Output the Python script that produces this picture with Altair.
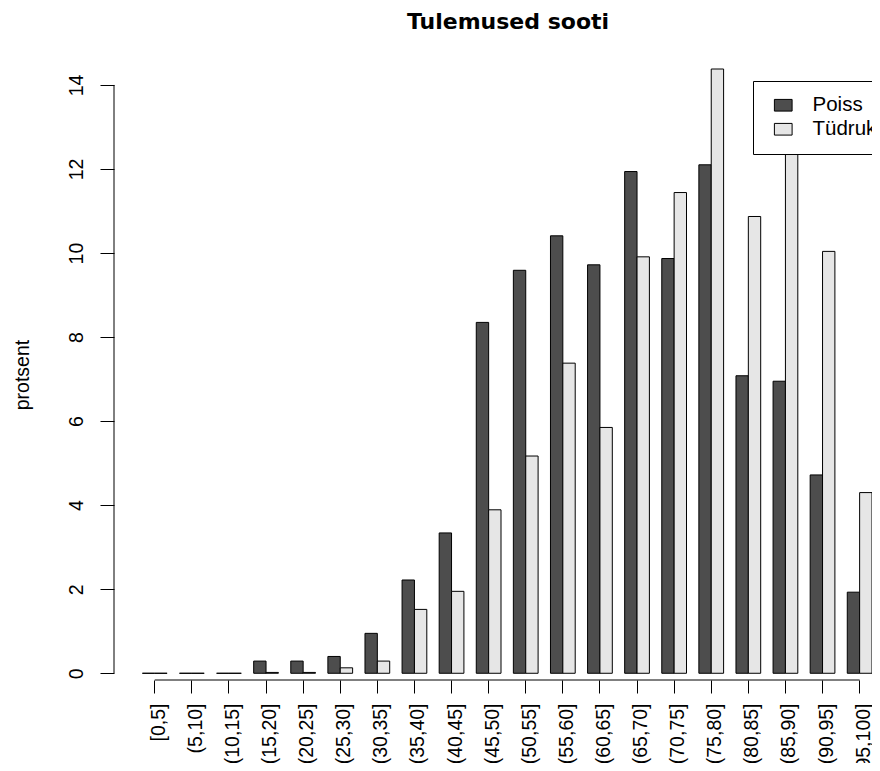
import altair as alt
import pandas as pd

# ---- data ----
title_text = "Tulemused sooti"
labels = ["[0,5]", "(5,10]", "(10,15]", "(15,20]", "(20,25]", "(25,30]", "(30,35]",
          "(35,40]", "(40,45]", "(45,50]", "(50,55]", "(55,60]", "(60,65]", "(65,70]",
          "(70,75]", "(75,80]", "(80,85]", "(85,90]", "(90,95]", "(95,100]"]
poiss = [0.0, 0.0, 0.0, 0.29, 0.29, 0.40, 0.95, 2.22, 3.34, 8.35, 9.59, 10.41,
         9.72, 11.94, 9.87, 12.10, 7.08, 6.95, 4.72, 1.93]
tydruk = [0.0, 0.0, 0.0, 0.02, 0.02, 0.13, 0.29, 1.52, 1.95, 3.89, 5.17, 7.38,
          5.85, 9.91, 11.44, 14.38, 10.87, 12.98, 10.04, 4.30]
series = ["Poiss", "Tüdruk"]
colors = ["#4d4d4d", "#e6e6e6"]
y_ticks = [0, 2, 4, 6, 8, 10, 12, 14]

rows = []
for g, p, t in zip(labels, poiss, tydruk):
    rows.append({"grp": g, "sex": series[0], "val": p})
    rows.append({"grp": g, "sex": series[1], "val": t})
df = pd.DataFrame(rows)

W, H = 758, 611
yscale = alt.Scale(domain=[-0.16, 14.38], nice=False, zero=False)
xscale = alt.Scale(domain=labels, paddingInner=1 / 3, paddingOuter=0.3825, align=1)
xaxis = alt.Axis(labelAngle=270, labelAlign="right", labelBaseline="middle",
                 tickSize=13, labelPadding=10, labelOffset=4, domain=False,
                 tickColor="black", labelFont="Liberation Sans", labelFontSize=19.5,
                 labelColor="black", labelOverlap=False, labelLimit=0, title=None)

bars = alt.Chart(df).mark_bar(stroke="black", strokeWidth=1, opacity=1).encode(
    x=alt.X("grp:N", scale=xscale, axis=xaxis),
    xOffset=alt.XOffset("sex:N", sort=series,
                        scale=alt.Scale(domain=series, paddingInner=0, paddingOuter=0)),
    y=alt.Y("val:Q", scale=yscale, title="protsent",
            axis=alt.Axis(values=y_ticks, labelAngle=270, labelAlign="center",
                          labelBaseline="alphabetic", tickSize=14, labelPadding=18,
                          domain=False, grid=False, tickColor="black",
                          labelFont="Liberation Sans", labelFontSize=19.5,
                          labelColor="black", titleFont="Liberation Sans",
                          titleFontSize=19.5, titleFontWeight="normal",
                          titleColor="black", titleAngle=270, titleAlign="center",
                          titleBaseline="middle", titleX=-92, titleY=H / 2)),
    y2=alt.datum(0),
    color=alt.Color("sex:N", sort=series,
                    scale=alt.Scale(domain=series, range=colors),
                    legend=alt.Legend(title=None, orient="none", legendX=639, legendY=12)),
)

xline_df = pd.DataFrame({"grp": [labels[0]], "grp_end": [labels[-1]]})
xline = alt.Chart(xline_df).mark_rule(color="black", strokeWidth=1).encode(
    x=alt.X("grp:N", scale=xscale, axis=xaxis),
    x2="grp_end:N",
    y=alt.value(H),
)

yline = alt.Chart(pd.DataFrame({"lo": [y_ticks[0]], "hi": [y_ticks[-1]]})).mark_rule(
    color="black", strokeWidth=1).encode(
    x=alt.value(0),
    y=alt.Y("lo:Q", scale=yscale),
    y2="hi:Q",
)

title = alt.Chart(pd.DataFrame({"t": [title_text]})).mark_text(
    font="DejaVu Sans", fontSize=22, fontWeight="bold", color="black",
    align="center", baseline="alphabetic").encode(
    text="t:N",
    x=alt.value(W / 2 + 15),
    y=alt.value(-40),
)

chart = alt.layer(bars, xline, yline, title).properties(
    width=W, height=H,
    autosize=alt.AutoSizeParams(type="none"),
    padding={"left": 106, "top": 61, "right": 0, "bottom": 83},
).configure_view(stroke=None).configure_legend(
    strokeColor="black", fillColor="white", padding=14, cornerRadius=0,
    symbolType="M-1,-0.66L1,-0.66L1,0.66L-1,0.66Z", symbolSize=313,
    symbolStrokeColor="black", symbolStrokeWidth=1, symbolOffset=6,
    labelOffset=19, labelFont="Liberation Sans", labelFontSize=20.5, labelColor="black",
    labelLimit=0, rowPadding=3, symbolOpacity=1,
)

chart.save("out.html", embed_options={"renderer": "svg", "actions": False})
